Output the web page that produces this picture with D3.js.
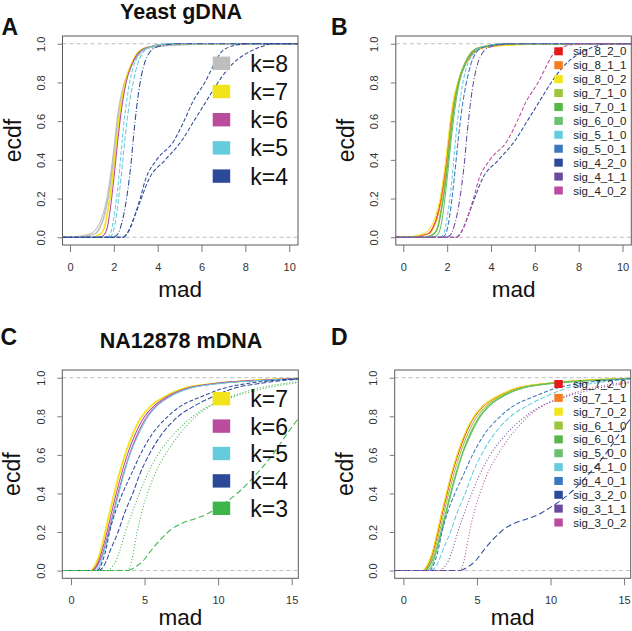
<!DOCTYPE html>
<html>
<head>
<meta charset="utf-8">
<script src="https://cdn.jsdelivr.net/npm/d3@7"></script>
<style>
  html, body { margin: 0; padding: 0; background: #fff; }
  svg { display: block; }
  text { font-family: "Liberation Sans", Arial, Helvetica, sans-serif; }
</style>
</head>
<body>
<svg id="chart" width="632" height="631"></svg>
<script>
// ---------------- DATA ----------------
// Yeast gDNA (panels A, B)
const topSigs = ["sig_8_2_0","sig_8_1_1","sig_8_0_2","sig_7_1_0","sig_7_0_1","sig_6_0_0","sig_5_1_0","sig_5_0_1","sig_4_2_0","sig_4_1_1","sig_4_0_2"];
const topK = [8,8,8,7,7,6,5,5,4,4,4];
const topLevels = [0, 0.02, 0.05, 0.1, 0.2, 0.3, 0.4, 0.5, 0.6, 0.7, 0.8, 0.9, 0.95, 0.98, 1];
const topMad = [
  [0.30, 1.15, 1.35, 1.52, 1.72, 1.86, 1.97, 2.07, 2.17, 2.30, 2.50, 2.85, 3.15, 3.60, 5.5],
  [0.40, 1.20, 1.38, 1.55, 1.74, 1.88, 1.99, 2.09, 2.19, 2.32, 2.52, 2.87, 3.20, 3.65, 5.8],
  [0.05, 0.95, 1.25, 1.45, 1.68, 1.82, 1.94, 2.04, 2.14, 2.27, 2.48, 2.85, 3.10, 3.55, 6.5],
  [1.00, 1.40, 1.55, 1.65, 1.80, 1.92, 2.02, 2.11, 2.21, 2.33, 2.50, 2.80, 3.05, 3.45, 4.6],
  [1.10, 1.43, 1.58, 1.68, 1.83, 1.95, 2.05, 2.14, 2.24, 2.36, 2.53, 2.83, 3.08, 3.50, 4.7],
  [1.40, 1.60, 1.70, 1.78, 1.90, 2.00, 2.09, 2.18, 2.28, 2.40, 2.56, 2.85, 3.10, 3.50, 4.5],
  [1.70, 1.85, 1.92, 2.00, 2.12, 2.22, 2.30, 2.38, 2.47, 2.58, 2.72, 2.95, 3.20, 3.55, 4.5],
  [1.80, 1.95, 2.02, 2.10, 2.22, 2.32, 2.41, 2.50, 2.60, 2.72, 2.88, 3.10, 3.30, 3.60, 4.6],
  [2.45, 2.60, 2.75, 2.92, 3.25, 3.60, 4.35, 5.10, 5.65, 6.20, 6.75, 7.45, 8.05, 8.60, 9.15],
  [2.00, 2.20, 2.30, 2.42, 2.58, 2.70, 2.80, 2.88, 2.97, 3.07, 3.20, 3.40, 3.60, 3.90, 4.8],
  [2.46, 2.62, 2.75, 2.92, 3.20, 3.45, 3.95, 4.75, 5.20, 5.60, 6.15, 6.60, 6.85, 7.20, 8.0]
];
const topSigColors = ["#E41A1C","#F47D20","#F2E51B","#9CC63C","#57B847","#6CC070","#66CCDC","#3B76BE","#2D4A9A","#6A4C9E","#BC4BA0"];
const topDash = ["", "", "", "", "", "", "4,2", "5,2", "4,2", "6,2,1,2", "4,2"];
const topLegendK = [8,7,6,5,4];

// NA12878 mDNA (panels C, D)
const botSigs = ["sig_7_2_0","sig_7_1_1","sig_7_0_2","sig_6_1_0","sig_6_0_1","sig_5_0_0","sig_4_1_0","sig_4_0_1","sig_3_2_0","sig_3_1_1","sig_3_0_2"];
const botK = [7,7,7,6,6,5,4,4,3,3,3];
const botLevels = [0, 0.02, 0.05, 0.1, 0.2, 0.3, 0.4, 0.5, 0.6, 0.7, 0.8, 0.85, 0.9, 0.95, 0.97, 0.99, 1];
const botMad = [
  [1.45, 1.62, 1.80, 2.03, 2.35, 2.65, 2.97, 3.30, 3.70, 4.18, 4.85, 5.40, 6.35, 8.00, 9.8, 13.5, 17],
  [1.42, 1.60, 1.78, 2.00, 2.32, 2.62, 2.94, 3.27, 3.67, 4.15, 4.82, 5.37, 6.30, 7.90, 9.7, 13.2, 17],
  [1.35, 1.55, 1.75, 1.98, 2.30, 2.60, 2.92, 3.25, 3.65, 4.12, 4.80, 5.35, 6.30, 7.85, 9.6, 13.0, 17],
  [1.45, 1.68, 1.88, 2.10, 2.45, 2.76, 3.08, 3.43, 3.83, 4.33, 5.02, 5.60, 6.50, 8.10, 9.8, 13.6, 17.5],
  [1.50, 1.75, 1.95, 2.20, 2.55, 2.88, 3.20, 3.56, 3.97, 4.48, 5.18, 5.75, 6.65, 8.30, 10.0, 14.0, 18],
  [1.60, 1.90, 2.05, 2.25, 2.60, 2.92, 3.25, 3.60, 4.00, 4.55, 5.25, 5.80, 6.70, 8.30, 10.2, 14.0, 18],
  [1.90, 2.20, 2.40, 2.65, 3.20, 3.65, 4.20, 4.68, 5.30, 6.10, 7.30, 8.30, 9.60, 11.3, 12.8, 15.0, 18],
  [1.80, 2.00, 2.15, 2.35, 2.62, 3.00, 3.50, 4.10, 4.70, 5.45, 6.60, 7.40, 8.80, 10.6, 12.0, 14.5, 17],
  [3.90, 4.40, 4.90, 5.40, 6.60, 9.40, 11.3, 12.6, 13.7, 14.6, 15.6, 16.3, 17.0, 18.5, 19.5, 21.0, 22],
  [2.50, 2.80, 3.05, 3.30, 3.70, 4.15, 4.65, 5.20, 5.90, 6.90, 8.30, 9.30, 11.0, 13.5, 15.0, 17.0, 19],
  [3.80, 4.00, 4.12, 4.25, 4.50, 4.80, 5.20, 5.70, 6.40, 7.30, 8.50, 9.40, 10.8, 13.0, 14.5, 16.5, 19]
];
const botSigColors = ["#E41A1C","#F47D20","#F2E51B","#9CC63C","#57B847","#6CC070","#66CCDC","#3B76BE","#2D4A9A","#6A4C9E","#BC4BA0"];
const botDash = ["", "", "", "", "", "", "5,2", "4,2", "6,3", "1,2", "1,2"];
const botLegendK = [7,6,5,4,3];

const kColors = {8: "#BEBEBE", 7: "#F2E41A", 6: "#BA4C9E", 5: "#66CCDC", 4: "#2D4A9A", 3: "#3DB54A"};

const topXTicks = [0, 2, 4, 6, 8, 10];
const botXTicks = [0, 5, 10, 15];
const yTicks = [0, 0.2, 0.4, 0.6, 0.8, 1.0];
const yTickLabels = ["0.0", "0.2", "0.4", "0.6", "0.8", "1.0"];

// ---------------- DRAWING ----------------
const svg = d3.select("#chart");
const FONT = '"Liberation Sans", Arial, Helvetica, sans-serif';

function drawPanel(cfg) {
  const g = svg.append("g");
  const x = d3.scaleLinear().domain(cfg.xd).range([cfg.l, cfg.r]);
  const y = d3.scaleLinear().domain([-0.04, 1.04]).range([cfg.b, cfg.t]);
  const clipId = "clip" + cfg.letter;
  svg.append("clipPath").attr("id", clipId).append("rect")
    .attr("x", cfg.l).attr("y", cfg.t).attr("width", cfg.r - cfg.l).attr("height", cfg.b - cfg.t);

  const plot = g.append("g").attr("clip-path", `url(#${clipId})`);

  // reference lines at 0 and 1
  [0, 1].forEach(v => {
    plot.append("line")
      .attr("x1", cfg.l).attr("x2", cfg.r)
      .attr("y1", y(v)).attr("y2", y(v))
      .attr("stroke", "#BDBDBD").attr("stroke-width", 1)
      .attr("stroke-dasharray", "4,3");
  });

  const line = d3.line().x(d => x(d[0])).y(d => y(d[1])).curve(d3.curveMonotoneX);

  cfg.mad.forEach((xs, i) => {
    const pts = xs.map((v, j) => [v, cfg.levels[j]]);
    const color = cfg.colors[i];
    const dash = cfg.dash[i];
    const gg = plot.append("g")
      .attr("fill", "none").attr("stroke", color).attr("stroke-width", 1.05);
    if (dash) gg.attr("stroke-dasharray", dash);
    gg.append("line")
      .attr("x1", cfg.l).attr("x2", x(xs[0]))
      .attr("y1", y(0)).attr("y2", y(0));
    gg.append("path").attr("d", line(pts));
    gg.append("line")
      .attr("x1", x(xs[xs.length - 1])).attr("x2", cfg.r)
      .attr("y1", y(1)).attr("y2", y(1));
  });

  // box
  g.append("rect")
    .attr("x", cfg.l).attr("y", cfg.t)
    .attr("width", cfg.r - cfg.l).attr("height", cfg.b - cfg.t)
    .attr("fill", "none").attr("stroke", "#5a5a5a").attr("stroke-width", 1);

  // x axis
  const xa = g.append("g").attr("transform", `translate(0,${cfg.b})`)
    .call(d3.axisBottom(x).tickValues(cfg.xticks).tickSize(7).tickPadding(11).tickFormat(d3.format("d")));
  xa.select(".domain").remove();
  xa.selectAll(".tick line").attr("stroke", "#7a7a7a");
  xa.selectAll(".tick text").attr("font-size", 11).attr("fill", "#333").attr("font-family", FONT);

  // y axis
  const ya = g.append("g").attr("transform", `translate(${cfg.l},0)`)
    .call(d3.axisLeft(y).tickValues(yTicks).tickSize(5).tickFormat((d, i) => yTickLabels[i]));
  ya.select(".domain").remove();
  ya.selectAll(".tick line").attr("stroke", "#7a7a7a");
  ya.selectAll(".tick text")
    .attr("font-size", 11).attr("fill", "#333").attr("font-family", FONT)
    .attr("text-anchor", "middle").attr("dy", null).attr("x", null)
    .attr("transform", "translate(-17.5,0) rotate(-90)");

  // axis titles
  g.append("text")
    .attr("x", (cfg.l + cfg.r) / 2).attr("y", cfg.b + cfg.madOff)
    .attr("text-anchor", "middle").attr("font-size", 22.5).attr("fill", "#111")
    .text("mad");
  g.append("text")
    .attr("transform", `translate(${cfg.l - 42},${(cfg.t + cfg.b) / 2}) rotate(-90)`)
    .attr("text-anchor", "middle").attr("font-size", 23).attr("fill", "#111")
    .text("ecdf");

  // panel letter
  g.append("text")
    .attr("x", cfg.letterX).attr("y", cfg.letterY)
    .attr("font-size", 23).attr("font-weight", "bold").attr("fill", "#111")
    .text(cfg.letter);

  if (cfg.title) {
    g.append("text")
      .attr("x", 181).attr("y", cfg.titleY)
      .attr("text-anchor", "middle").attr("font-size", 21.5).attr("font-weight", "bold").attr("fill", "#111")
      .text(cfg.title);
  }

  // legend
  if (cfg.legendType === "k") {
    cfg.legendKeys.forEach((k, i) => {
      const cy = cfg.legY0 + i * cfg.legStep;
      g.append("rect").attr("x", 212.7).attr("y", cy - 6.7).attr("width", 17.5).attr("height", 13.4)
        .attr("fill", kColors[k]);
      g.append("text").attr("x", 250.3).attr("y", cy + 8.5)
        .attr("font-size", 23).attr("fill", "#111").text("k=" + k);
    });
  } else {
    cfg.legendKeys.forEach((s, i) => {
      const cy = cfg.legY0 + i * cfg.legStep;
      g.append("rect").attr("x", 554.3).attr("y", cy - 4).attr("width", 8.5).attr("height", 8)
        .attr("fill", cfg.colors[i]);
      g.append("text").attr("x", 573.3).attr("y", cy + 4)
        .attr("font-size", 11.5).attr("fill", "#222").text(s);
    });
  }
}

drawPanel({
  letter: "A", letterX: 1.5, letterY: 34.5, title: "Yeast gDNA", titleY: 19,
  l: 62.5, r: 298, t: 36, b: 245, xd: [-0.342, 10.4], xticks: topXTicks, madOff: 52,
  levels: topLevels, mad: topMad, colors: topK.map(k => kColors[k]), dash: topDash,
  legendType: "k", legendKeys: topLegendK, legY0: 63.3, legStep: 28.2
});
drawPanel({
  letter: "B", letterX: 331, letterY: 34.5,
  l: 395.8, r: 631.3, t: 36, b: 245, xd: [-0.342, 10.4], xticks: topXTicks, madOff: 52,
  levels: topLevels, mad: topMad, colors: topSigColors, dash: topDash,
  legendType: "sig", legendKeys: topSigs, legY0: 51.3, legStep: 13.92
});
drawPanel({
  letter: "C", letterX: 0.5, letterY: 345, title: "NA12878 mDNA", titleY: 348,
  l: 62.3, r: 298.3, t: 370, b: 578.3, xd: [-0.59, 15.45], xticks: botXTicks, madOff: 47,
  levels: botLevels, mad: botMad, colors: botK.map(k => kColors[k]), dash: botDash,
  legendType: "k", legendKeys: botLegendK, legY0: 398.7, legStep: 27.4
});
drawPanel({
  letter: "D", letterX: 331, letterY: 345,
  l: 394.7, r: 630.7, t: 370, b: 578.3, xd: [-0.59, 15.45], xticks: botXTicks, madOff: 47,
  levels: botLevels, mad: botMad, colors: botSigColors, dash: botDash,
  legendType: "sig", legendKeys: botSigs, legY0: 384, legStep: 13.85
});
</script>
</body>
</html>
